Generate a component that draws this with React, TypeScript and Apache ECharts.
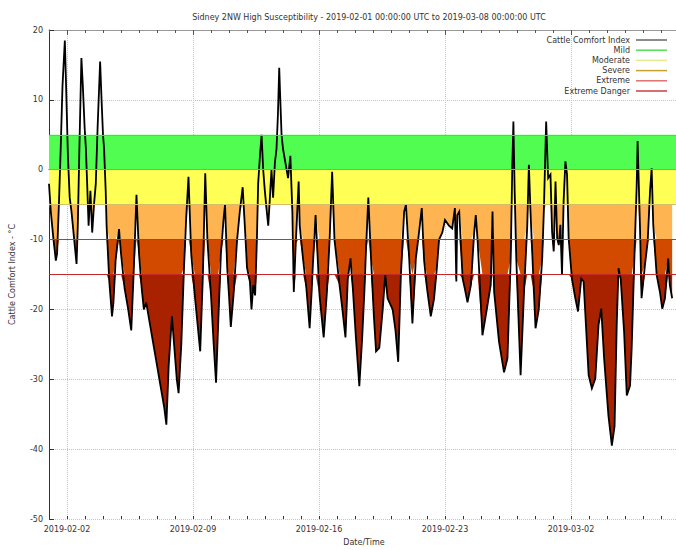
import React, { useEffect, useRef } from "react";
import * as echarts from "echarts";

// days since 2019-02-01 00:00 UTC
const dayOffsets = [
  0.0, 0.1, 0.25, 0.38, 0.45, 0.55, 0.65, 0.75, 0.88, 0.95, 1.05, 1.15, 1.25, 1.4, 1.53, 1.6, 1.68, 1.8, 1.88, 1.98,
  2.05, 2.12, 2.2, 2.3, 2.4, 2.5, 2.6, 2.7, 2.84, 2.92, 3.0, 3.06, 3.15, 3.2, 3.35, 3.5, 3.58, 3.7, 3.89, 4.0,
  4.2, 4.4, 4.57, 4.7, 4.86, 5.0, 5.15, 5.27, 5.4, 5.6, 5.8, 6.0, 6.2, 6.4, 6.52, 6.65, 6.83, 6.95, 7.1, 7.2,
  7.35, 7.5, 7.62, 7.75, 7.9, 8.1, 8.25, 8.4, 8.55, 8.68, 8.8, 9.0, 9.15, 9.28, 9.4, 9.55, 9.7, 9.78, 9.9, 10.0,
  10.1, 10.25, 10.45, 10.6, 10.76, 10.9, 11.0, 11.16, 11.25, 11.35, 11.45, 11.55, 11.62, 11.72, 11.81, 11.9, 11.99, 12.1, 12.18, 12.25,
  12.36, 12.45, 12.55, 12.64, 12.72, 12.79, 12.85, 12.92, 13.0, 13.1, 13.2, 13.28, 13.41, 13.52, 13.6, 13.71, 13.87, 13.93, 14.11, 14.3,
  14.48, 14.6, 14.66, 14.81, 15.03, 15.26, 15.44, 15.59, 15.73, 15.86, 16.14, 16.3, 16.47, 16.6, 16.75, 16.88, 17.05, 17.24, 17.4, 17.52,
  17.61, 17.74, 17.89, 18.05, 18.17, 18.35, 18.54, 18.68, 18.81, 19.09, 19.25, 19.4, 19.55, 19.73, 19.83, 20.01, 20.19, 20.38, 20.51, 20.71,
  20.84, 21.0, 21.21, 21.39, 21.55, 21.67, 21.85, 22.0, 22.22, 22.4, 22.55, 22.63, 22.68, 22.79, 22.98, 23.1, 23.25, 23.44, 23.62, 23.71,
  23.81, 24.08, 24.27, 24.54, 24.64, 24.73, 25.0, 25.28, 25.47, 25.65, 25.74, 25.8, 25.87, 25.96, 26.2, 26.39, 26.57, 26.66, 26.75, 26.94,
  27.03, 27.21, 27.4, 27.49, 27.62, 27.73, 27.86, 27.95, 28.04, 28.14, 28.23, 28.32, 28.41, 28.5, 28.59, 28.69, 28.78, 28.87, 29.05, 29.24,
  29.39, 29.57, 29.7, 29.98, 30.16, 30.35, 30.53, 30.68, 30.84, 31.08, 31.27, 31.42, 31.54, 31.64, 31.76, 31.95, 32.1, 32.28, 32.37, 32.52,
  32.65, 32.7, 32.83, 32.92, 33.11, 33.26, 33.39, 33.48, 33.57, 33.76, 33.94, 34.07, 34.22, 34.4, 34.49, 34.62,
];

const cci = [
  -2, -6, -10, -13, -12, -5, 3, 12, 18.5, 12, 2, -4, -6, -10, -13.5, -8, 2, 16, 12, 6,
  3, -2, -8, -3, -9, -5, -2, 6, 15.5, 10, 5, 3, -3, -8, -16, -21, -19, -13, -8.5, -12,
  -17, -20, -23, -15, -3.6, -12, -17, -20, -19, -22, -25, -28, -31, -34, -36.5, -28, -21, -25, -30, -32,
  -25, -14, -7, -1, -12, -18, -22, -26, -15, -0.5, -10, -18, -25, -30.5, -22, -12, -7, -5, -14, -18,
  -22.5, -18, -10, -6, -2.5, -9, -14, -16, -20, -16.5, -18, -10, -2, 2, 5, 0, -3, -6, -8, -5,
  0, -4, 1, 3, 8, 14.6, 10, 5, 3, 1.5, 0, -1.2, 2, -6, -17.5, -10.5, -1.7, -8, -12.7, -17,
  -22.7, -17, -13.6, -6.5, -18, -24, -17.5, -10, -0.3, -10, -16.5, -20, -24, -15.6, -12.7, -17, -24, -31, -24, -17.5,
  -11.5, -4, -12.7, -21, -26, -25.5, -20, -15, -18.4, -20, -23, -27.5, -15, -6, -5, -12.7, -22, -12.7, -10, -5.5,
  -13, -17, -21, -18.5, -14, -10, -9, -7.2, -8, -8.4, -5.5, -16, -6.5, -6, -15.6, -17, -19, -16.5, -9, -6.5,
  -10, -23.7, -20.8, -16.5, -6, -17.5, -24.6, -29, -27, -12.7, 0.7, 6.9, -3, -12.7, -29.4, -17.5, -8, 0.7, -6, -17.5,
  -22.7, -20, -12.7, -6, 6.9, -1.2, -0.7, -8.9, -11.7, -1.7, -9.8, -10.8, -7.9, -15, -4.5, 1.2, -0.7, -9.8, -15.6, -18.4,
  -20.3, -15.6, -16, -29.4, -31.3, -29.9, -22.2, -19.9, -27, -35.2, -39.5, -36.7, -22.2, -14.1, -15.6, -23.2, -32.3, -30.9, -25.6, -12.7,
  -2.2, 4.1, -7.9, -18.4, -13.6, -10.3, -3.1, 0.2, -7.9, -15.1, -17.5, -19.9, -18.4, -12.7, -16.5, -18.4,
];

const tickDays = [1, 8, 15, 22, 29];
const tickLabels = ["2019-02-02", "2019-02-09", "2019-02-16", "2019-02-23", "2019-03-02"];

// comfort bands below -5: upper bound, lower bound, fill
const bandHi = [-5, -10, -15];
const bandLo = [-10, -15, -60];
const bandColors = ["#ffb452", "#d24a00", "#a82200"];

const legendNames = ["Cattle Comfort Index", "Mild", "Moderate", "Severe", "Extreme", "Extreme Danger"];
const legendColors = ["#666666", "#55dd55", "#e8e890", "#c8a030", "#e07070", "#c84040"];

const titleText = "Sidney 2NW High Susceptibility - 2019-02-01 00:00:00 UTC to 2019-03-08 00:00:00 UTC";
const FONT = "DejaVu Sans";

export default function App() {
  const ref = useRef<HTMLDivElement>(null);
  useEffect(() => {
    const chart = echarts.init(ref.current!, null, { renderer: "svg" });

    const lineData = dayOffsets.map((d, i) => [d, cci[i]]);

    const legendGraphics: any[] = [];
    legendNames.forEach((n, i) => {
      const y = 40 + i * 10.2;
      legendGraphics.push({
        type: "text",
        style: { text: n, x: 630, y, align: "right", verticalAlign: "middle", textAlign: "right", textVerticalAlign: "middle", font: `8px "${FONT}"`, fill: "#333" },
        z: 100,
      });
      legendGraphics.push({
        type: "line",
        shape: { x1: 636, y1: y, x2: 667, y2: y },
        style: { stroke: legendColors[i], lineWidth: 1.5 },
        z: 100,
      });
    });

    chart.setOption({
      animation: false,
      backgroundColor: "#ffffff",
      title: {
        text: titleText,
        left: 364,
        top: 8,
        textAlign: "center",
        textStyle: { fontSize: 8, fontWeight: "normal", color: "#333", fontFamily: FONT },
      },
      grid: { left: 49, right: -3, top: 30, bottom: 31, outerBoundsMode: "none" },
      xAxis: [
        {
          type: "value",
          min: 0,
          max: 35,
          position: "bottom",
          axisLine: { show: true, lineStyle: { color: "#333", width: 1 } },
          axisTick: { show: true, inside: true, length: 5, customValues: tickDays, lineStyle: { color: "#333" } },
          axisLabel: {
            customValues: tickDays,
            formatter: (v: number) => {
              const k = tickDays.indexOf(Math.round(v));
              return k >= 0 ? tickLabels[k] : "";
            },
            fontSize: 8,
            color: "#333",
            fontFamily: FONT,
            margin: 6,
          },
          splitLine: { show: true, lineStyle: { type: "dotted", color: "#c4c4c4", width: 1 } },
          name: "Date/Time",
          nameLocation: "middle",
          nameGap: 19,
          nameTextStyle: { fontSize: 8, color: "#333", fontFamily: FONT },
        },
        {
          type: "value",
          min: 0,
          max: 35,
          interval: 1,
          position: "bottom",
          axisLine: { show: false },
          axisTick: { show: true, inside: true, length: 3, lineStyle: { color: "#333" } },
          axisLabel: { show: false },
          splitLine: { show: false },
        },
        {
          type: "value",
          min: 0,
          max: 35,
          interval: 1,
          position: "top",
          axisLine: { show: true, lineStyle: { color: "#999", width: 1 } },
          axisTick: { show: true, inside: true, length: 3, lineStyle: { color: "#555" } },
          axisLabel: { show: false },
          splitLine: { show: false },
        },
        {
          type: "value",
          min: 0,
          max: 35,
          position: "top",
          axisLine: { show: false },
          axisTick: { show: true, inside: true, length: 5, customValues: tickDays, lineStyle: { color: "#555" } },
          axisLabel: { show: false, customValues: tickDays },
          splitLine: { show: false },
        },
      ],
      yAxis: {
        type: "value",
        min: -50,
        max: 20,
        interval: 10,
        axisLine: { show: true, lineStyle: { color: "#333", width: 1 } },
        axisTick: { show: true, inside: true, length: 5, lineStyle: { color: "#333" } },
        axisLabel: { fontSize: 8, color: "#333", fontFamily: FONT, margin: 6 },
        splitLine: { show: true, lineStyle: { type: "dotted", color: "#c4c4c4", width: 1 } },
        name: "Cattle Comfort Index - °C",
        nameLocation: "middle",
        nameGap: 33,
        nameRotate: 90,
        nameTextStyle: { fontSize: 8, color: "#333", fontFamily: FONT },
      },
      graphic: legendGraphics,
      series: [
        {
          type: "line",
          data: [],
          showSymbol: false,
          silent: true,
          z: 1,
          markArea: {
            silent: true,
            data: [
              [{ yAxis: 5, itemStyle: { color: "#52fd52" } }, { yAxis: 0 }],
              [{ yAxis: 0, itemStyle: { color: "#ffff55" } }, { yAxis: -5 }],
            ],
          },
        },
        {
          type: "custom",
          coordinateSystem: "cartesian2d",
          xAxisIndex: 0,
          yAxisIndex: 0,
          data: [[0, 0]],
          silent: true,
          clip: true,
          z: 2,
          renderItem: (params: any, api: any) => {
            const children = bandHi.map((hi, b) => {
              const lo = bandLo[b];
              const pts: number[][] = [];
              for (let i = 0; i < dayOffsets.length; i++) {
                pts.push(api.coord([dayOffsets[i], Math.min(hi, Math.max(cci[i], lo))]));
              }
              for (let i = dayOffsets.length - 1; i >= 0; i--) {
                pts.push(api.coord([dayOffsets[i], hi]));
              }
              return { type: "polygon", shape: { points: pts }, style: { fill: bandColors[b], stroke: "none" } };
            });
            return { type: "group", children };
          },
        },
        {
          type: "line",
          data: [],
          showSymbol: false,
          silent: true,
          z: 3,
          markLine: {
            silent: true,
            symbol: ["none", "none"],
            label: { show: false },
            data: [
              { yAxis: 5, lineStyle: { color: "#44dd44", type: "solid", width: 1 } },
              { yAxis: 0, lineStyle: { color: "#c8a000", type: "solid", width: 1 } },
              { yAxis: -5, lineStyle: { color: "#d4be6a", type: "solid", width: 1 } },
              { yAxis: -10, lineStyle: { color: "#d03030", type: "solid", width: 1 } },
              { yAxis: -15, lineStyle: { color: "#c42828", type: "solid", width: 1 } },
            ],
          },
        },
        {
          type: "line",
          data: lineData,
          showSymbol: false,
          symbol: "none",
          lineStyle: { color: "#000", width: 1.8, join: "miter" },
          silent: true,
          z: 4,
        },
      ],
    });
    return () => chart.dispose();
  }, []);
  return <div ref={ref} style={{ position: "fixed", left: 0, top: 0, width: 676, height: 550 }} />;
}
